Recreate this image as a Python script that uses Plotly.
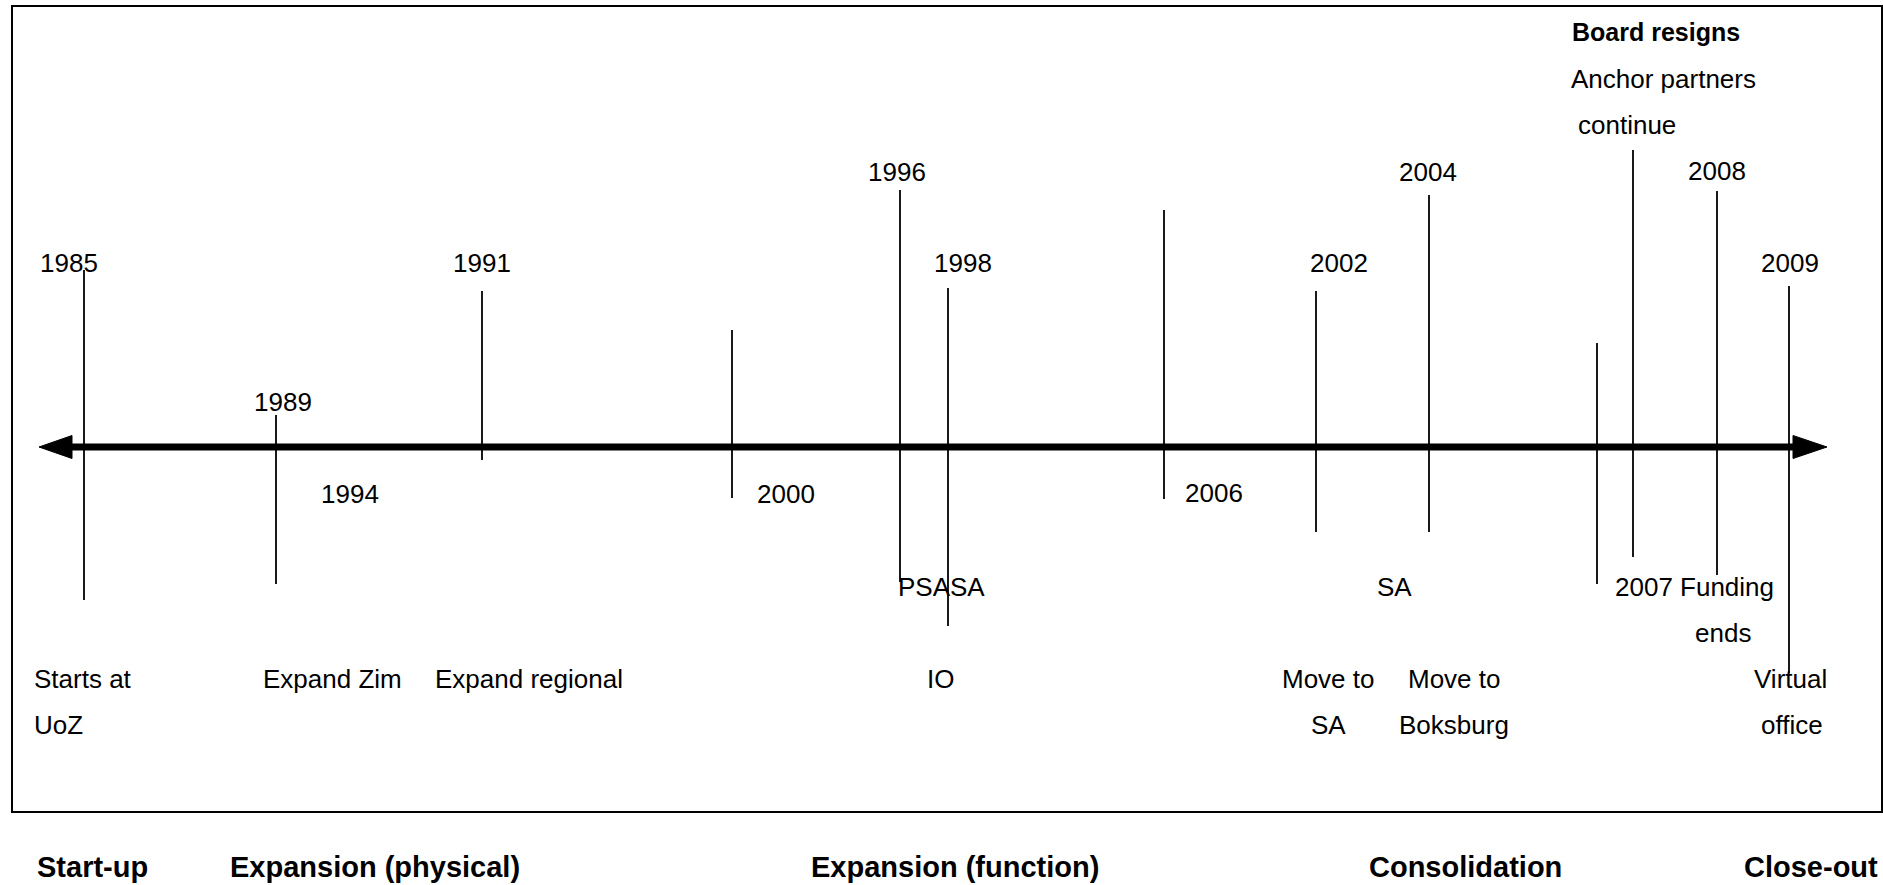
import plotly.graph_objects as go

# ---------------- data ----------------
# event stems: horizontal position, top end, bottom end (diagram units = px)
stem_x = [84, 276, 482, 732, 900, 948, 1164, 1316, 1429, 1597, 1633, 1717, 1789]
stem_top = [270, 415, 291, 330, 190, 288, 210, 291, 195, 343, 150, 191, 286]
stem_bottom = [600, 584, 460, 498, 582, 626, 499, 532, 532, 584, 557, 575, 673]

# year labels
year_labels = ["1985", "1989", "1991", "1994", "2000", "1996", "1998",
               "2006", "2002", "2004", "2008", "2009"]
year_x = [69, 283, 482, 350, 786, 897, 963, 1214, 1339, 1428, 1717, 1790]
year_y = [263, 402, 263, 494, 494, 172, 263, 493, 263, 172, 171, 263]

# event descriptions (centered)
event_labels = ["PSASA", "SA", "2007 Funding", "ends", "Expand Zim", "Expand regional",
                "IO", "Move to", "SA", "Move to", "Boksburg", "Virtual", "office",
                "Anchor partners", "continue"]
event_x = [941, 1394, 1694, 1723, 332, 529, 940, 1328, 1328, 1454, 1454, 1790, 1792,
           1663, 1627]
event_y = [587, 587, 587, 633, 679, 679, 679, 679, 725, 679, 725, 679, 725, 79, 125]

# left-aligned descriptions
left_labels = ["Starts at", "UoZ"]
left_x = [32, 32]
left_y = [679, 725]

# phases
phase_labels = ["Start-up", "Expansion (physical)", "Expansion (function)",
                "Consolidation", "Close-out"]
phase_x = [92, 375, 955, 1465, 1811]
phase_y = 867

# timeline axis
axis_start, axis_end, axis_y = 72, 1793, 447
head_len, head_half = 34, 11.5

# frame
frame = dict(x0=12, x1=1882, y0=6, y1=812)

FONT = "Liberation Sans, Arial, Helvetica, sans-serif"

fig = go.Figure()

# stems
xs, ys = [], []
for x, t, b in zip(stem_x, stem_top, stem_bottom):
    xs += [x, x, None]
    ys += [t, b, None]
fig.add_trace(go.Scatter(x=xs, y=ys, mode="lines",
                         line=dict(color="black", width=1.8),
                         hoverinfo="skip", showlegend=False))

# axis bar
fig.add_trace(go.Scatter(x=[axis_start, axis_end], y=[axis_y, axis_y], mode="lines",
                         line=dict(color="black", width=7),
                         hoverinfo="skip", showlegend=False))
# arrow heads
fig.add_trace(go.Scatter(
    x=[axis_start - head_len + 1, axis_start, axis_start, axis_start - head_len + 1],
    y=[axis_y, axis_y - head_half, axis_y + head_half, axis_y],
    mode="lines", fill="toself", fillcolor="black",
    line=dict(color="black", width=1), hoverinfo="skip", showlegend=False))
fig.add_trace(go.Scatter(
    x=[axis_end + head_len, axis_end, axis_end, axis_end + head_len],
    y=[axis_y, axis_y - head_half, axis_y + head_half, axis_y],
    mode="lines", fill="toself", fillcolor="black",
    line=dict(color="black", width=1), hoverinfo="skip", showlegend=False))

# frame
fig.add_shape(type="rect", xref="x", yref="y", **frame,
              line=dict(color="black", width=2), fillcolor="rgba(0,0,0,0)", layer="below")

ann = []
for t, x, y in zip(year_labels, year_x, year_y):
    ann.append(dict(text=t, x=x, y=y, xanchor="center", yanchor="middle"))
for t, x, y in zip(event_labels, event_x, event_y):
    ann.append(dict(text=t, x=x, y=y, xanchor="center", yanchor="middle"))
for t, x, y in zip(left_labels, left_x, left_y):
    ann.append(dict(text=t, x=x, y=y, xanchor="left", yanchor="middle"))
for a in ann:
    a.update(xref="x", yref="y", showarrow=False,
             font=dict(family=FONT, size=26, color="black"))
ann.append(dict(text="<b>Board resigns</b>", x=1570, y=32, xref="x", yref="y",
                xanchor="left", yanchor="middle", showarrow=False,
                font=dict(family=FONT, size=25, color="black")))
for t, x in zip(phase_labels, phase_x):
    ann.append(dict(text="<b>" + t + "</b>", x=x, y=phase_y, xref="x", yref="y",
                    xanchor="center", yanchor="middle", showarrow=False,
                    font=dict(family=FONT, size=29, color="black")))

fig.update_layout(
    width=1883, height=885,
    margin=dict(l=0, r=0, t=0, b=0),
    paper_bgcolor="white", plot_bgcolor="white",
    xaxis=dict(range=[0, 1883], visible=False, fixedrange=True),
    yaxis=dict(range=[885, 0], visible=False, fixedrange=True),
    annotations=ann,
    showlegend=False,
)

fig.write_html(
    "out.html",
    config={"displayModeBar": False},
    post_script="document.body.style.margin='0';document.body.style.overflow='hidden';"
                "document.documentElement.style.overflow='hidden';",
)
